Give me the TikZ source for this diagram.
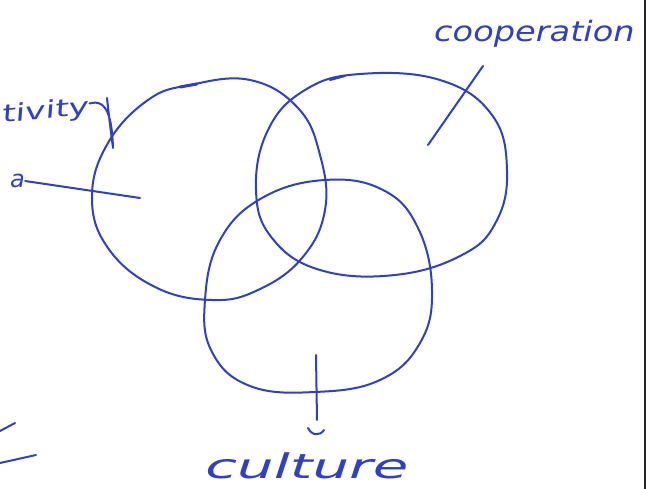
\documentclass[tikz,border=0pt]{standalone}
\usepackage{fontspec}
\setmainfont{DejaVu Sans}
\begin{document}
\begin{tikzpicture}[x=1pt,y=-1pt,
  ink/.style={draw=inkblue,line width=2pt,line cap=round,line join=round},
  hand/.style={text=inkblue,font=\itshape,inner sep=0pt,anchor=west}]
\definecolor{inkblue}{RGB}{48,64,190}
\useasboundingbox[fill=white] (0,0) rectangle (659,489);
% page edge
\draw[line width=1.4pt,black!85] (645,0) -- (645,489);
% circles
\draw[ink] plot[smooth cycle,tension=0.7] coordinates {(190,85) (250,80) (298,108) (320,155) (325,210) (302,258) (258,290) (212,300) (155,287) (108,248) (92,197) (108,143) (148,100)};
\draw[ink] plot[smooth cycle,tension=0.7] coordinates {(360,74) (440,80) (492,115) (507,170) (496,222) (462,255) (395,275) (320,270) (272,238) (256,190) (268,130) (305,90)};
\draw[ink] plot[smooth cycle,tension=0.7] coordinates {(325,180) (383,190) (418,228) (432,290) (420,343) (380,380) (315,392) (250,386) (212,352) (205,300) (220,240) (262,198)};
% little marks on circles
\draw[ink,line width=3pt] (180,87) -- (197,84);
\draw[ink] (330,80) -- (345,76);
% labels
\node[hand,font=\itshape\fontsize{24}{24}\selectfont,xscale=1.45,rotate=8] (tiv) at (2,116) {tivity};
\node[hand,font=\itshape\fontsize{24}{24}\selectfont] (a) at (10,181) {a};
\node[hand,font=\itshape\fontsize{28}{28}\selectfont,xscale=1.2] (coop) at (434,34) {cooperation};
\node[hand,font=\itshape\fontsize{34}{34}\selectfont,xscale=1.7] (cult) at (205,466) {culture};
% connector ends
\coordinate (tivE) at (113,148);
\coordinate (aE) at (140,198);
\coordinate (coopS) at (483,66);
\coordinate (coopE) at (428,145);
\coordinate (cultS) at (316,355);
\coordinate (cultE) at (317,420);
% connectors
\draw[ink] (tiv.east) ++(0,-4) .. controls (108,98) and (112,120) .. (tivE) .. controls (110,125) .. (107,98);
\draw[ink] (a.east) -- (aE);
\draw[ink] (coopS) -- (coopE);
\draw[ink] (cultS) -- (cultE);
\draw[ink] (308,428) .. controls (312,436) and (320,436) .. (324,430);
% dashes bottom left
\draw[ink] (0,431) -- (15,423);
\draw[ink] (0,463) -- (36,455);
\end{tikzpicture}
\end{document}
